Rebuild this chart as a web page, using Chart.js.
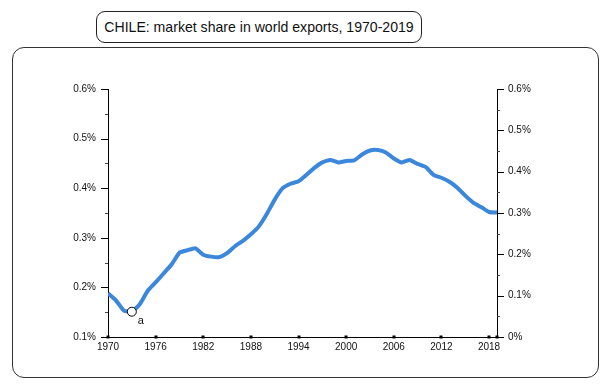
<!DOCTYPE html>
<html>
<head>
<meta charset="utf-8">
<script src="https://cdn.jsdelivr.net/npm/chart.js@4"></script>
<style>
  html, body { margin: 0; padding: 0; background: #fff; }
  #wrap { position: relative; width: 610px; height: 389px; }
  #title {
    position: absolute; left: 96px; top: 11px; width: 326px; height: 32px;
    border: 1px solid #222; border-radius: 9px; box-sizing: border-box;
    font: 14.1px "Liberation Sans", Arial, sans-serif; color: #111;
    text-align: center; line-height: 30px; white-space: nowrap;
  }
  #frame {
    position: absolute; left: 12px; top: 47px; width: 587px; height: 331px;
    border: 1px solid #333; border-radius: 12px; box-sizing: border-box;
  }
  canvas { position: absolute; left: 0; top: 0; }
</style>
</head>
<body>
<div id="wrap">
  <div id="title">CHILE: market share in world exports, 1970-2019</div>
  <div id="frame"></div>
  <canvas id="shareChart" width="610" height="389"></canvas>
</div>
<script>
const years = [];
for (let y = 1970; y <= 2019; y++) years.push(y);

// market share, % of world exports
const share = [
  0.188, 0.174, 0.153, 0.151, 0.166, 0.193, 0.210, 0.228, 0.246, 0.270,
  0.275, 0.279, 0.266, 0.262, 0.261, 0.269, 0.283, 0.294, 0.307, 0.323,
  0.348, 0.377, 0.400, 0.409, 0.414, 0.427, 0.441, 0.452, 0.457, 0.452,
  0.455, 0.456, 0.468, 0.476, 0.477, 0.472, 0.460, 0.452, 0.457, 0.449,
  0.443, 0.427, 0.421, 0.413, 0.401, 0.385, 0.371, 0.362, 0.352, 0.351
];

const xTicks = [1970, 1976, 1982, 1988, 1994, 2000, 2006, 2012, 2018, 2019];
const leftTicks = [0.1, 0.2, 0.3, 0.4, 0.5, 0.6];
const rightTicks = [0, 0.1, 0.2, 0.3, 0.4, 0.5, 0.6];
const markerYear = 1973;
const markerLabel = "a";

const font = { family: "'Liberation Sans', Arial, sans-serif", size: 10 };

// draw tick marks by hand (major long, minor short)
const tickMarks = {
  id: "tickMarks",
  afterDraw(chart) {
    const c = chart.ctx;
    const { x, y, y2 } = chart.scales;
    c.save();
    c.strokeStyle = "#000";
    c.fillStyle = "#000";
    c.lineWidth = 1;
    xTicks.forEach(t => {
      const px = Math.round(x.getPixelForValue(t));
      c.fillRect(px - 1.5, x.top - 1.5, 3, 3);
    });
    for (let v = 0.1; v <= 0.6001; v += 0.05) {
      const py = Math.round(y.getPixelForValue(v)) + 0.5;
      const major = Math.abs(v * 10 - Math.round(v * 10)) < 1e-6;
      c.strokeStyle = major ? "#000" : "#444";
      c.beginPath();
      c.moveTo(y.right - (major ? 7 : 3), py);
      c.lineTo(y.right, py);
      c.stroke();
    }
    for (let v = 0; v <= 0.6001; v += 0.05) {
      const py = Math.round(y2.getPixelForValue(v)) + 0.5;
      const major = Math.abs(v * 10 - Math.round(v * 10)) < 1e-6;
      c.strokeStyle = major ? "#000" : "#444";
      c.beginPath();
      c.moveTo(y2.left, py);
      c.lineTo(y2.left + (major ? 7 : 3), py);
      c.stroke();
    }
    // marker label
    const mi = years.indexOf(markerYear);
    c.font = "11px 'Liberation Sans', Arial, sans-serif";
    c.fillStyle = "#111";
    c.textBaseline = "middle";
    c.fillText(markerLabel, x.getPixelForValue(markerYear) + 6, y.getPixelForValue(share[mi]) + 9);
    c.restore();
  }
};

const ctx = document.getElementById("shareChart").getContext("2d");
new Chart(ctx, {
  type: "line",
  data: {
    datasets: [
      {
        data: years.map((yr, i) => ({ x: yr, y: share[i] })),
        borderColor: "#3a87dc",
        borderWidth: 4,
        pointRadius: 0,
        tension: 0.15,
        yAxisID: "y",
        order: 1
      },
      {
        data: [{ x: markerYear, y: share[years.indexOf(markerYear)] }],
        showLine: false,
        pointRadius: 4.5,
        pointBackgroundColor: "#fff",
        pointBorderColor: "#000",
        pointBorderWidth: 1,
        yAxisID: "y",
        order: 0
      }
    ]
  },
  options: {
    responsive: false,
    animation: false,
    layout: { padding: { top: 89, left: 0, right: 0, bottom: 0 } },
    plugins: { legend: { display: false }, tooltip: { enabled: false } },
    scales: {
      x: {
        type: "linear",
        min: 1970,
        max: 2019,
        afterBuildTicks: s => { s.ticks = xTicks.map(v => ({ value: v })); },
        afterFit: s => { s.height = 52; },
        grid: { drawOnChartArea: false, tickLength: 3, tickColor: "rgba(0,0,0,0)" },
        border: { color: "#000", width: 1 },
        ticks: {
          font, color: "#111", padding: 1, maxRotation: 0, autoSkip: false,
          callback: v => v === 2019 ? "" : String(v)
        }
      },
      y: {
        position: "left",
        min: 0.1,
        max: 0.6,
        afterBuildTicks: s => { s.ticks = leftTicks.map(v => ({ value: v })); },
        afterFit: s => { s.width = 108; },
        grid: { drawOnChartArea: false, tickLength: 7, tickColor: "rgba(0,0,0,0)" },
        border: { color: "#000", width: 1 },
        ticks: { font, color: "#111", padding: 5, callback: v => v.toFixed(1) + "%" }
      },
      y2: {
        position: "right",
        min: 0,
        max: 0.6,
        afterBuildTicks: s => { s.ticks = rightTicks.map(v => ({ value: v })); },
        afterFit: s => { s.width = 113; },
        grid: { drawOnChartArea: false, tickLength: 7, tickColor: "rgba(0,0,0,0)" },
        border: { color: "#000", width: 1 },
        ticks: { font, color: "#111", padding: 4, callback: v => v === 0 ? "0%" : v.toFixed(1) + "%" }
      }
    }
  },
  plugins: [tickMarks]
});
</script>
</body>
</html>
